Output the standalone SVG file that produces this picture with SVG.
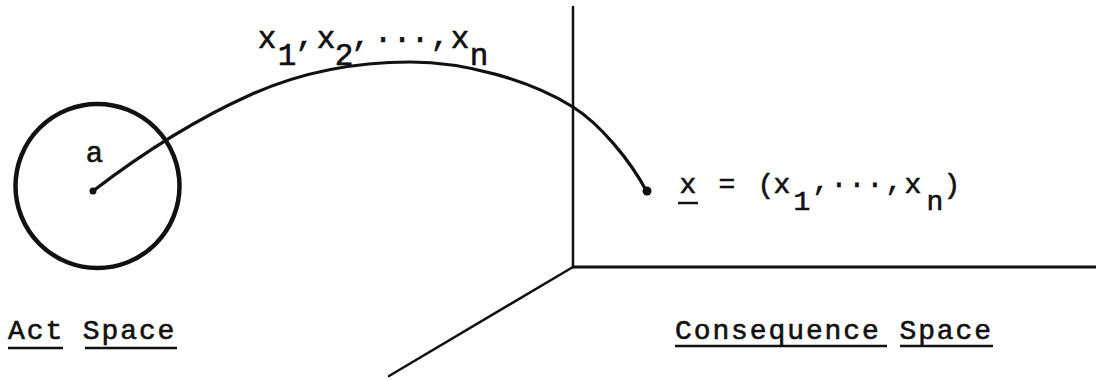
<svg xmlns="http://www.w3.org/2000/svg" width="1096" height="381" viewBox="0 0 1096 381">
  <style>
    .t { font-family: "Liberation Mono", "DejaVu Sans Mono", monospace; fill: #111; stroke: #111; stroke-width: 0.6; }
    .ln { stroke: #111; fill: none; stroke-linecap: round; stroke-linejoin: round; }
    .ul { stroke: #111; stroke-width: 2.5; }
  </style>
  <rect width="1096" height="381" fill="#fff"/>

  <g id="act-space">
    <circle class="ln" cx="97.5" cy="186" r="82" stroke-width="4.5"/>
    <circle cx="93" cy="191" r="3.5" fill="#111"/>
    <text class="t" font-size="29" x="94.5" y="162" text-anchor="middle">a</text>
    <text class="t" font-size="28" x="8" y="339" letter-spacing="1.9">Act Space</text>
    <line class="ul" x1="8" y1="348" x2="63" y2="348"/>
    <line class="ul" x1="85" y1="348" x2="177" y2="348"/>
  </g>

  <g id="consequence-space">
    <line class="ln" x1="573" y1="7" x2="573" y2="267" stroke-width="2.5"/>
    <line class="ln" x1="573" y1="267" x2="1096" y2="267" stroke-width="3"/>
    <line class="ln" x1="573" y1="267" x2="389" y2="376" stroke-width="2.5"/>
    <text class="t" font-size="28" x="675" y="339" letter-spacing="1.9">Consequence Space</text>
    <line class="ul" x1="675" y1="346" x2="887" y2="346"/>
    <line class="ul" x1="900" y1="346" x2="993" y2="346"/>
  </g>

  <g id="point-x">
    <circle cx="647" cy="191" r="4.5" fill="#111"/>
    <text class="t" font-size="28" text-anchor="middle"><tspan x="688" y="193">x</tspan><tspan x="727" y="193">=</tspan><tspan x="766" y="193">(</tspan><tspan x="782" y="193">x</tspan><tspan x="802" y="210">1</tspan><tspan x="821" y="190">,</tspan><tspan x="839 857 875" y="193">···</tspan><tspan x="894" y="190">,</tspan><tspan x="913" y="193">x</tspan><tspan x="935" y="210">n</tspan><tspan x="952" y="193">)</tspan></text>
    <line class="ul" x1="678" y1="203" x2="698" y2="203"/>
  </g>

  <g id="connectors">
    <path class="ln" stroke-width="3.2" d="M93,191 C140,155 190,122 250,95 C300,72.5 355,62 410,62 C465,62 530,80 573,107 C600,124 630,160 647,192"/>
    <text class="t" font-size="31" text-anchor="middle"><tspan x="267" y="48">x</tspan><tspan x="287" y="65">1</tspan><tspan x="305" y="45">,</tspan><tspan x="326" y="48">x</tspan><tspan x="344" y="65">2</tspan><tspan x="361" y="45">,</tspan><tspan x="383 402 420" y="48">···</tspan><tspan x="440" y="45">,</tspan><tspan x="460" y="48">x</tspan><tspan x="479" y="65">n</tspan></text>
  </g>
</svg>
